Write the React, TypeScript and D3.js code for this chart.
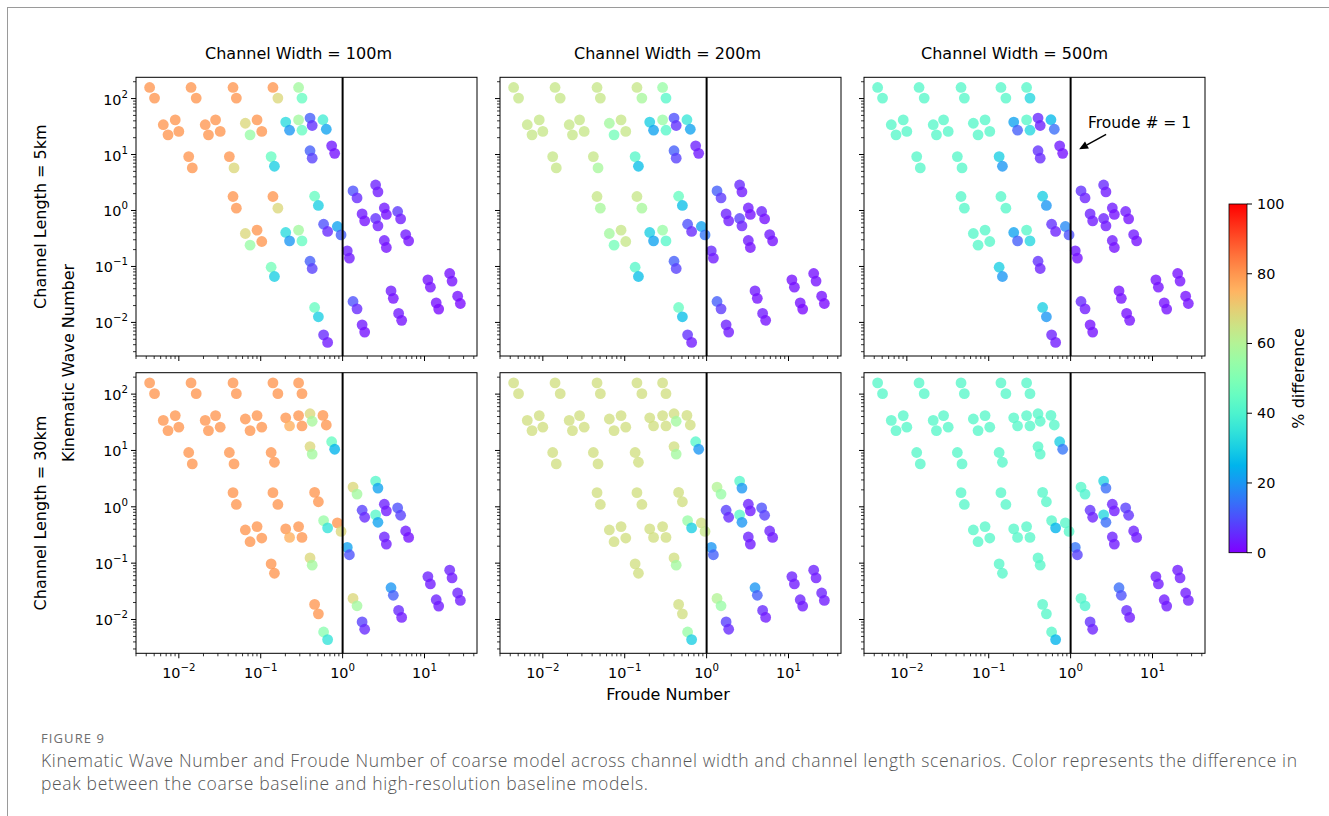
import React from 'react';
import * as d3 from 'd3';

// ---------- DATA ----------
const FROUDE = [
  // row ~150
  0.0044, 0.00505, 0.0141, 0.0163, 0.0459, 0.0504, 0.141, 0.162, 0.290, 0.319,
  // row ~35
  0.00646, 0.00904, 0.00738, 0.0100, 0.0210, 0.0281, 0.0230, 0.0320, 0.0649, 0.0902,
  0.0741, 0.103, 0.202, 0.225, 0.290, 0.319, 0.400, 0.425, 0.575, 0.632,
  // row ~10
  0.0132, 0.0146, 0.0414, 0.0472, 0.134, 0.147, 0.400, 0.425, 0.735, 0.800,
  // row ~1.5
  0.0459, 0.0504, 0.141, 0.162, 0.455, 0.506,
  // row ~0.4
  0.0649, 0.0902, 0.0741, 0.103, 0.202, 0.225, 0.290, 0.319, 0.586, 0.656, 0.863, 0.957, 1.14, 1.21,
  // row ~0.1
  0.134, 0.147, 0.400, 0.425,
  // row ~0.01
  0.455, 0.506, 0.586, 0.656,
  // supercritical, upper
  1.34, 1.50, 2.53, 2.70, 1.73, 1.86, 2.53, 2.70, 3.23, 3.42, 4.70, 5.11, 3.23, 3.42, 5.89, 6.40,
  // supercritical, lower
  1.34, 1.50, 1.73, 1.86, 3.90, 4.16, 4.83, 5.26, 11.0, 11.8, 20.3, 21.7, 13.9, 14.9, 25.4, 27.4,
];

const KWN = [
  158, 102, 158, 102, 158, 102, 158, 102, 158, 102,
  34.1, 41.6, 22.5, 25.9, 34.1, 41.6, 22.5, 25.9, 36.2, 41.6,
  22.5, 25.9, 38.0, 27.2, 41.6, 27.2, 44.9, 33.0, 41.9, 28.3,
  9.20, 5.77, 9.20, 5.77, 9.20, 6.17, 11.7, 8.61, 14.3, 10.5,
  1.78, 1.10, 1.78, 1.10, 1.80, 1.23,
  0.388, 0.445, 0.240, 0.279, 0.405, 0.286, 0.445, 0.286, 0.569, 0.422, 0.518, 0.366, 0.190, 0.141,
  0.0970, 0.0662, 0.124, 0.0920,
  0.0185, 0.0126, 0.0060, 0.0044,
  2.24, 1.68, 2.86, 2.15, 0.869, 0.652, 0.719, 0.531, 1.11, 0.849, 0.959, 0.708, 0.291, 0.218, 0.372, 0.286,
  0.0237, 0.0175, 0.00906, 0.00671, 0.0366, 0.0269, 0.0145, 0.0109, 0.0577, 0.0427, 0.0750, 0.0547, 0.0224, 0.0173, 0.0295, 0.0218,
];

// % difference, one list per panel
const PCT_W100_L5 = [
  80, 80, 80, 80, 80, 80, 80, 68, 57, 45,
  80, 80, 80, 80, 80, 80, 80, 80, 68, 80, 55, 80, 33, 20, 57, 45, 12, 6, 38, 22,
  80, 80, 80, 68, 45, 30, 12, 8, 3, 2,
  80, 80, 80, 68, 45, 30,
  68, 80, 55, 80, 33, 20, 57, 45, 10, 5, 22, 12, 4, 3,
  48, 30, 12, 8,
  45, 30, 5, 3,
  10, 5, 4, 3, 3, 2, 6, 3, 3, 2, 7, 3, 3, 2, 3, 2,
  10, 5, 3, 2, 3, 2, 3, 2, 2, 2, 2, 2, 2, 1, 2, 1,
];
const PCT_W200_L5 = [
  64, 64, 64, 64, 64, 64, 64, 58, 55, 42,
  64, 64, 64, 64, 64, 64, 64, 64, 57, 64, 48, 64, 30, 22, 55, 42, 10, 6, 36, 22,
  64, 64, 64, 58, 42, 27, 12, 8, 4, 3,
  64, 58, 64, 58, 45, 27,
  57, 64, 48, 64, 30, 22, 55, 42, 10, 5, 22, 15, 5, 3,
  42, 27, 12, 8,
  45, 27, 6, 3,
  12, 7, 5, 3, 4, 3, 8, 4, 3, 2, 4, 2, 3, 2, 3, 2,
  12, 7, 4, 3, 3, 2, 3, 2, 2, 2, 2, 2, 2, 1, 2, 1,
];
const PCT_W500_L5 = [
  42, 42, 42, 42, 42, 42, 42, 42, 42, 32,
  42, 42, 42, 42, 42, 42, 42, 42, 42, 42, 42, 42, 22, 12, 42, 32, 5, 4, 26, 14,
  42, 42, 42, 42, 30, 20, 6, 5, 3, 2,
  42, 42, 42, 42, 30, 20,
  42, 42, 42, 42, 22, 12, 42, 32, 6, 4, 18, 10, 3, 2,
  30, 20, 6, 4,
  30, 20, 4, 3,
  6, 4, 5, 3, 4, 3, 4, 3, 3, 2, 3, 2, 3, 2, 3, 2,
  5, 3, 2, 2, 2, 2, 2, 2, 2, 2, 2, 2, 2, 2, 2, 2,
];
const PCT_W100_L30 = [
  80, 80, 80, 80, 80, 80, 80, 80, 80, 80,
  80, 80, 80, 80, 80, 80, 80, 80, 80, 80, 80, 80, 80, 76, 80, 80, 68, 58, 80, 80,
  80, 80, 80, 80, 80, 80, 68, 57, 45, 25,
  80, 80, 80, 80, 80, 80,
  80, 80, 80, 80, 80, 76, 80, 80, 55, 35, 80, 68, 22, 10,
  80, 80, 68, 57,
  80, 80, 52, 35,
  68, 57, 42, 22, 8, 5, 42, 22, 4, 3, 10, 8, 4, 3, 3, 2,
  68, 57, 8, 5, 20, 12, 5, 3, 4, 3, 4, 3, 4, 3, 4, 3,
];
const PCT_W200_L30 = [
  66, 66, 66, 66, 66, 66, 66, 66, 66, 66,
  66, 66, 66, 66, 66, 66, 66, 66, 66, 66, 66, 66, 66, 66, 66, 66, 66, 57, 66, 66,
  66, 66, 66, 66, 66, 66, 66, 57, 42, 20,
  66, 66, 66, 66, 66, 66,
  66, 66, 66, 66, 66, 66, 66, 66, 55, 30, 66, 64, 20, 12,
  66, 66, 66, 57,
  66, 66, 55, 30,
  60, 55, 42, 20, 8, 5, 42, 20, 4, 3, 10, 8, 4, 3, 4, 3,
  60, 55, 8, 5, 20, 12, 5, 3, 4, 3, 4, 3, 4, 3, 4, 3,
];
const PCT_W500_L30 = [
  42, 42, 42, 42, 42, 42, 42, 42, 42, 42,
  42, 42, 42, 42, 42, 42, 42, 42, 42, 42, 42, 42, 42, 42, 42, 42, 42, 42, 42, 42,
  42, 42, 42, 42, 42, 42, 42, 42, 30, 15,
  42, 42, 42, 42, 42, 42,
  42, 42, 42, 42, 42, 42, 42, 42, 42, 25, 42, 42, 15, 8,
  42, 42, 42, 42,
  42, 42, 42, 25,
  42, 40, 32, 14, 6, 4, 32, 14, 4, 3, 8, 6, 4, 3, 4, 3,
  42, 40, 6, 4, 14, 10, 5, 3, 3, 3, 3, 3, 3, 3, 3, 3,
];

const PANEL_VALUES = [
  [PCT_W100_L5, PCT_W200_L5, PCT_W500_L5],
  [PCT_W100_L30, PCT_W200_L30, PCT_W500_L30],
];

const WIDTH_TITLES = ['Channel Width = 100m', 'Channel Width = 200m', 'Channel Width = 500m'];
const LENGTH_TITLES = ['Channel Length = 5km', 'Channel Length = 30km'];
const X_TICK_EXP = [-2, -1, 0, 1];
const Y_TICK_EXP = [-2, -1, 0, 1, 2];
const CBAR_TICKS = [0, 20, 40, 60, 80, 100];
const ANNOT_TEXT = 'Froude # = 1';
const ANNOT_XY = [1.27, 12.4];
const ANNOT_TEXT_XY = [1.63, 36];

const CAPTION_LABEL = 'FIGURE 9';
const CAPTION_LINES = [
  'Kinematic Wave Number and Froude Number of coarse model across channel width and channel length scenarios. Color represents the difference in',
  'peak between the coarse baseline and high-resolution baseline models.',
];

// ---------- LAYOUT ----------
const W = 1329;
const H = 816;
const COL_X = [136, 500, 864];
const PANEL_W = 341;
const ROW_Y = [77.3, 372.7];
const ROW_H = [278.7, 280.6];
const X_DOMAIN = [Math.pow(10, -2.523), Math.pow(10, 1.641)];
const Y_DOMAIN = [Math.pow(10, -2.6), Math.pow(10, 2.38)];
const FONT = 'DejaVu Sans, Verdana, sans-serif';
const CAP_FONT = 'Open Sans, Noto Sans, sans-serif';

function rainbow(v: number) {
  const t = Math.max(0, Math.min(1, v / 100));
  const r = Math.min(1, Math.abs(2 * t - 0.5));
  const g = Math.max(0, Math.sin(Math.PI * t));
  const b = Math.max(0, Math.cos((Math.PI * t) / 2));
  return d3.rgb(r * 255, g * 255, b * 255).formatHex();
}

function minorTicks(domain: number[]) {
  const out: number[] = [];
  for (let d = -4; d <= 3; d++) {
    for (let m = 2; m <= 9; m++) {
      const v = m * Math.pow(10, d);
      if (v >= domain[0] && v <= domain[1]) out.push(v);
    }
  }
  return out;
}

function expLabel(e: number) {
  return e < 0 ? '\u2212' + Math.abs(e) : String(e);
}

function Panel({ r, c }: { r: number; c: number }) {
  const x0 = COL_X[c];
  const y0 = ROW_Y[r];
  const h = ROW_H[r];
  const x = d3.scaleLog().domain(X_DOMAIN).range([x0, x0 + PANEL_W]);
  const y = d3.scaleLog().domain(Y_DOMAIN).range([y0 + h, y0]);
  const vals = PANEL_VALUES[r][c];
  const id = `clip-${r}-${c}`;
  const xMinor = minorTicks(X_DOMAIN);
  const yMinor = minorTicks(Y_DOMAIN);
  return (
    <g>
      <defs>
        <clipPath id={id}>
          <rect x={x0} y={y0} width={PANEL_W} height={h} />
        </clipPath>
      </defs>
      <g clipPath={`url(#${id})`}>
        {FROUDE.map((f, i) => (
          <circle key={i} cx={x(f)} cy={y(KWN[i])} r={5.4} fill={rainbow(vals[i])} fillOpacity={0.78} />
        ))}
      </g>
      <line x1={x(1)} x2={x(1)} y1={y0} y2={y0 + h} stroke="#000" strokeWidth={2} />
      <rect x={x0} y={y0} width={PANEL_W} height={h} fill="none" stroke="#000" strokeWidth={1} />
      {X_TICK_EXP.map((e) => (
        <line key={'xm' + e} x1={x(Math.pow(10, e))} x2={x(Math.pow(10, e))} y1={y0 + h} y2={y0 + h + 5} stroke="#000" strokeWidth={1} />
      ))}
      {xMinor.map((v, i) => (
        <line key={'xn' + i} x1={x(v)} x2={x(v)} y1={y0 + h} y2={y0 + h + 3} stroke="#000" strokeWidth={0.8} />
      ))}
      {Y_TICK_EXP.map((e) => (
        <line key={'ym' + e} x1={x0 - 5} x2={x0} y1={y(Math.pow(10, e))} y2={y(Math.pow(10, e))} stroke="#000" strokeWidth={1} />
      ))}
      {yMinor.map((v, i) => (
        <line key={'yn' + i} x1={x0 - 3} x2={x0} y1={y(v)} y2={y(v)} stroke="#000" strokeWidth={0.8} />
      ))}
      {r === 1 &&
        X_TICK_EXP.map((e) => (
          <text key={'xl' + e} x={x(Math.pow(10, e))} y={y0 + h + 25} textAnchor="middle" fontSize={14.4} fontFamily={FONT} fill="#000">
            10<tspan dy={-7} fontSize={10.2}>{expLabel(e)}</tspan>
          </text>
        ))}
      {c === 0 &&
        Y_TICK_EXP.map((e) => (
          <text key={'yl' + e} x={x0 - 8} y={y(Math.pow(10, e)) + 6} textAnchor="end" fontSize={14.4} fontFamily={FONT} fill="#000">
            10<tspan dy={-7} fontSize={10.2}>{expLabel(e)}</tspan>
          </text>
        ))}
      {r === 0 && c === 2 && (() => {
        const tx = x(ANNOT_XY[0]);
        const ty = y(ANNOT_XY[1]);
        const sx = tx + 27;
        const sy = ty - 15;
        const ang = Math.atan2(ty - sy, tx - sx);
        const hl = 9, hw = 4;
        const bx = tx - hl * Math.cos(ang);
        const by = ty - hl * Math.sin(ang);
        const px = -Math.sin(ang) * hw;
        const py = Math.cos(ang) * hw;
        return (
          <g>
            <text x={x(ANNOT_TEXT_XY[0])} y={y(ANNOT_TEXT_XY[1]) + 5} fontSize={15.5} fontFamily={FONT} fill="#000">
              {ANNOT_TEXT}
            </text>
            <line x1={sx} y1={sy} x2={bx} y2={by} stroke="#000" strokeWidth={1.5} />
            <polygon points={`${tx},${ty} ${bx + px},${by + py} ${bx - px},${by - py}`} fill="#000" />
          </g>
        );
      })()}
    </g>
  );
}

function Colorbar() {
  const cx = 1229;
  const cy = 204;
  const cw = 18;
  const ch = 348.7;
  const s = d3.scaleLinear().domain([0, 100]).range([cy + ch, cy]);
  const stops = d3.range(0, 101, 5);
  return (
    <g>
      <defs>
        <linearGradient id="cbar" x1="0" y1="1" x2="0" y2="0">
          {stops.map((v) => (
            <stop key={v} offset={`${v}%`} stopColor={rainbow(v)} />
          ))}
        </linearGradient>
      </defs>
      <rect x={cx} y={cy} width={cw} height={ch} fill="url(#cbar)" stroke="#000" strokeWidth={0.8} />
      {CBAR_TICKS.map((t) => (
        <g key={t}>
          <line x1={cx + cw} x2={cx + cw + 5} y1={s(t)} y2={s(t)} stroke="#000" strokeWidth={1} />
          <text x={cx + cw + 10} y={s(t) + 5} fontSize={14.4} fontFamily={FONT} fill="#000">
            {t}
          </text>
        </g>
      ))}
      <text transform={`translate(1304,${cy + ch / 2}) rotate(-90)`} textAnchor="middle" fontSize={16} fontFamily={FONT} fill="#000">
        % difference
      </text>
    </g>
  );
}

export default function App() {
  const titleX = [298.5, 667.5, 1014.5];
  return (
    <svg width={W} height={H} style={{ position: 'absolute', left: 0, top: 0, background: '#fff' }}>
      <rect x={0} y={0} width={W} height={H} fill="#fff" />
      <rect x={7.5} y={7.5} width={W + 20} height={H + 20} fill="none" stroke="#9a9a9a" strokeWidth={1} />
      {WIDTH_TITLES.map((t, i) => (
        <text key={t} x={titleX[i]} y={59} textAnchor="middle" fontSize={16} fontFamily={FONT} fill="#000">
          {t}
        </text>
      ))}
      {LENGTH_TITLES.map((t, i) => (
        <text key={t} transform={`translate(46,${ROW_Y[i] + ROW_H[i] / 2}) rotate(-90)`} textAnchor="middle" fontSize={16} fontFamily={FONT} fill="#000">
          {t}
        </text>
      ))}
      <text transform="translate(74,363) rotate(-90)" textAnchor="middle" fontSize={16} fontFamily={FONT} fill="#000">
        Kinematic Wave Number
      </text>
      <text x={668} y={700} textAnchor="middle" fontSize={16} fontFamily={FONT} fill="#000">
        Froude Number
      </text>
      {[0, 1].map((r) => [0, 1, 2].map((c) => <Panel key={`${r}-${c}`} r={r} c={c} />))}
      <Colorbar />
      <text x={41} y={743} fontSize={13} fontFamily={CAP_FONT} fill="#6e6e6e" textLength={63} lengthAdjust="spacing">
        {CAPTION_LABEL}
      </text>
      <text x={41} y={766.5} fontSize={17.5} fontWeight={300} fontFamily={CAP_FONT} fill="#555" textLength={1256} lengthAdjust="spacing">
        {CAPTION_LINES[0]}
      </text>
      <text x={41} y={789.5} fontSize={17.5} fontWeight={300} fontFamily={CAP_FONT} fill="#555" textLength={607} lengthAdjust="spacing">
        {CAPTION_LINES[1]}
      </text>
    </svg>
  );
}
